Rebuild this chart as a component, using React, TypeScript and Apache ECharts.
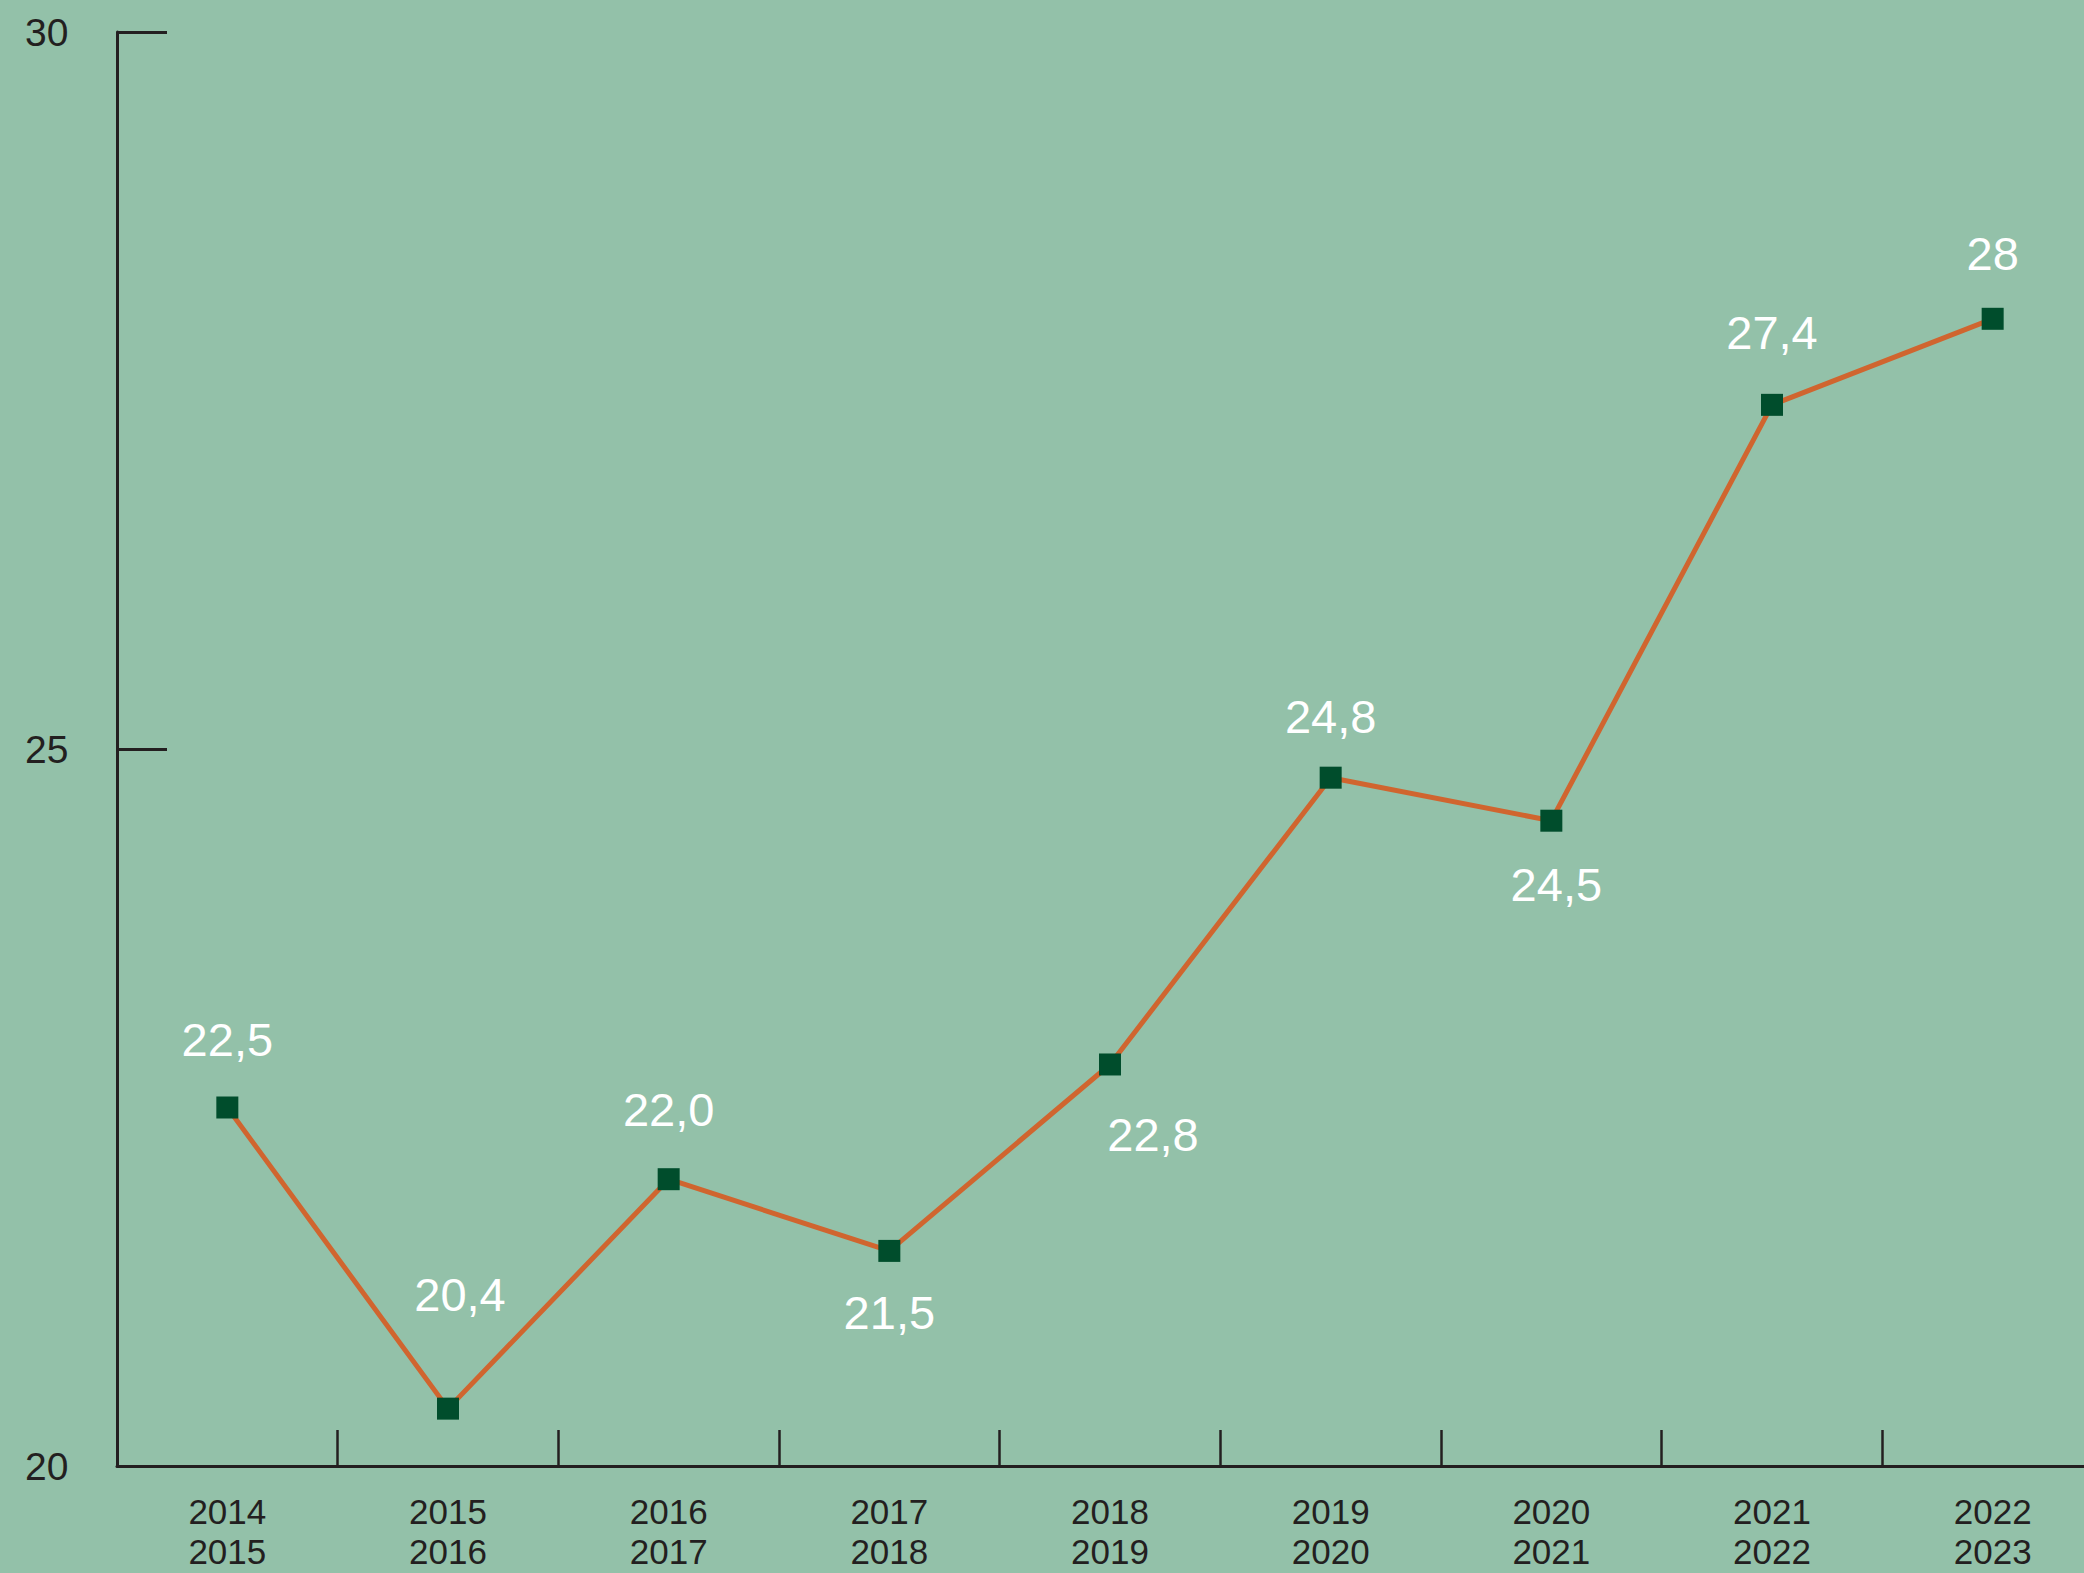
import React, { useEffect, useRef } from "react";
import * as echarts from "echarts";

const categories = [
  "2014\n2015",
  "2015\n2016",
  "2016\n2017",
  "2017\n2018",
  "2018\n2019",
  "2019\n2020",
  "2020\n2021",
  "2021\n2022",
  "2022\n2023",
];
const values = [22.5, 20.4, 22.0, 21.5, 22.8, 24.8, 24.5, 27.4, 28];
const valueLabels = ["22,5", "20,4", "22,0", "21,5", "22,8", "24,8", "24,5", "27,4", "28"];
const labelOffsets: [number, number][] = [
  [0, -68],
  [12, -114],
  [0, -70],
  [0, 62],
  [43, 70],
  [0, -61],
  [5, 64],
  [0, -72],
  [0, -65],
];
const yMin = 20;
const yMax = 30;
const yInterval = 5;

const BG = "#93c1a9";
const INK = "#231f20";

export default function App() {
  const ref = useRef<HTMLDivElement>(null);
  useEffect(() => {
    if (!ref.current) return;
    const chart = echarts.init(ref.current, undefined, { renderer: "svg" });
    chart.setOption({
      animation: false,
      backgroundColor: BG,
      textStyle: { fontFamily: "Liberation Sans" },
      grid: { left: 117, top: 32, width: 1986, height: 1434, containLabel: false },
      xAxis: {
        type: "category",
        data: categories,
        boundaryGap: true,
        axisLine: { show: true, lineStyle: { color: INK, width: 3 } },
        axisTick: { show: true, inside: true, length: 36, lineStyle: { color: INK, width: 2.5 } },
        axisLabel: {
          color: INK,
          fontSize: 35,
          lineHeight: 40,
          margin: 25,
          verticalAlign: "top",
          interval: 0,
        },
        splitLine: { show: false },
      },
      yAxis: {
        type: "value",
        min: yMin,
        max: yMax,
        interval: yInterval,
        axisLine: { show: true, lineStyle: { color: INK, width: 3 } },
        axisTick: { show: true, inside: true, length: 50, lineStyle: { color: INK, width: 3 } },
        axisLabel: { color: INK, fontSize: 39, align: "left", margin: 92 },
        splitLine: { show: false },
      },
      series: [
        {
          type: "line",
          data: values.map((v, i) => ({
            value: v,
            label: { offset: labelOffsets[i], formatter: valueLabels[i] },
          })),
          symbol: "rect",
          symbolSize: 22,
          itemStyle: { color: "#004d2c" },
          lineStyle: { color: "#d0652f", width: 5 },
          label: {
            show: true,
            position: "inside",
            color: "#ffffff",
            fontSize: 47,
            fontFamily: "Liberation Sans",
          },
        },
      ],
    });
    return () => chart.dispose();
  }, []);
  return (
    <div
      style={{
        position: "fixed",
        left: 0,
        top: 0,
        width: 2084,
        height: 1573,
        overflow: "hidden",
        background: BG,
      }}
    >
      <div ref={ref} style={{ width: 2120, height: 1573 }} />
    </div>
  );
}
